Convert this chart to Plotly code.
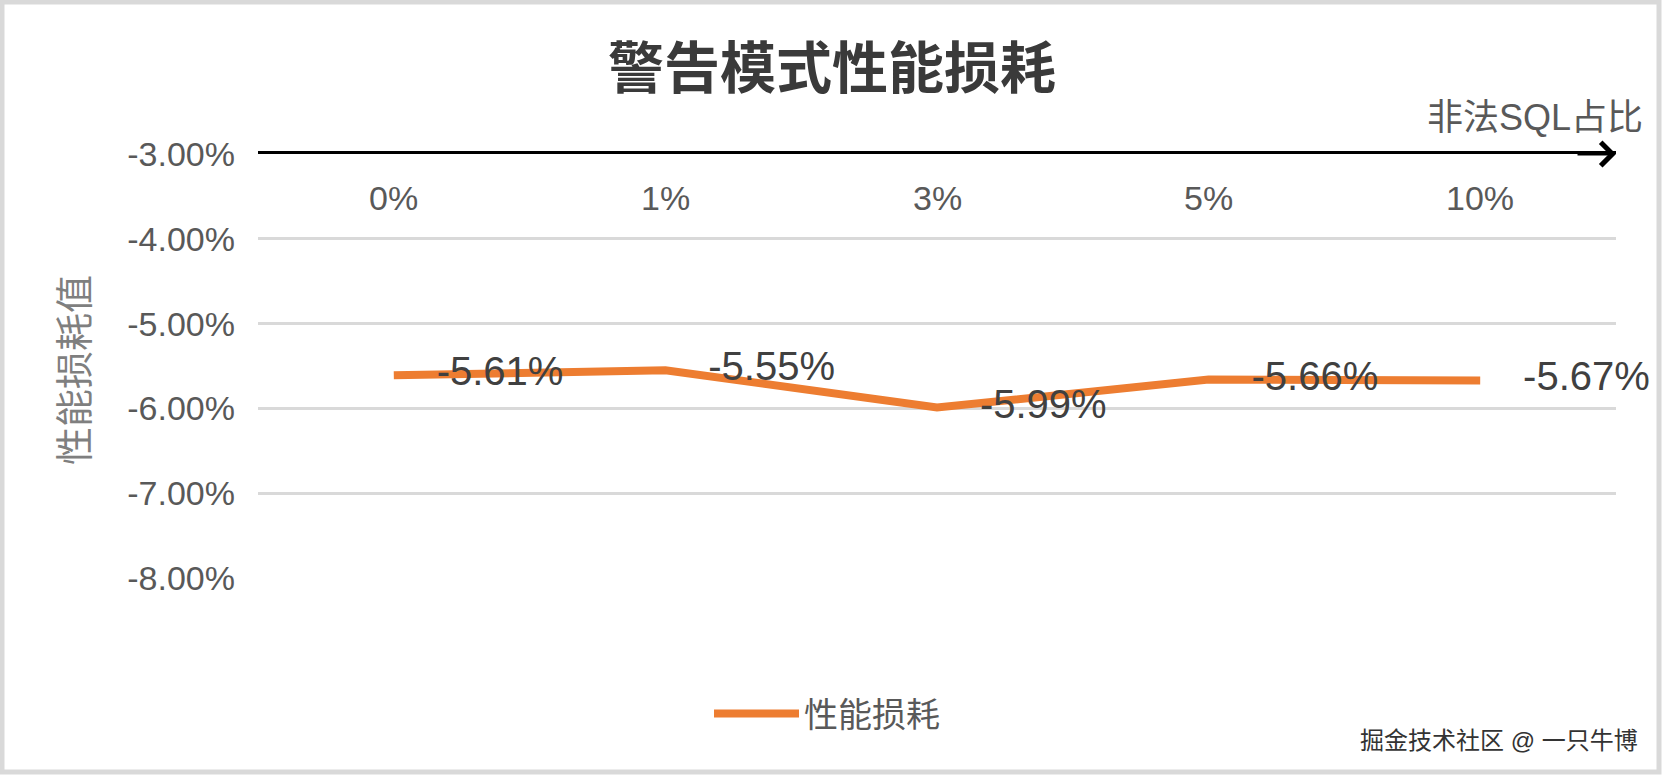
import plotly.graph_objects as go

# data
categories = ["0%", "1%", "3%", "5%", "10%"]
loss = [-0.0561, -0.0555, -0.0599, -0.0566, -0.0567]
y_ticks = [-0.03, -0.04, -0.05, -0.06, -0.07, -0.08]

W, H = 1664, 776
ML, MR, MT, MB = 258, 48, 154, 198
PW, PH = W - ML - MR, H - MT - MB

FONT = "Liberation Sans, Arial, Noto Sans CJK SC, sans-serif"
ORANGE = "#ED7D31"


def px_x(x):
    return (x - ML) / PW


def px_y(y):
    return (H - MB - y) / PH


fig = go.Figure()
fig.add_trace(go.Scatter(
    x=categories, y=loss, name="性能损耗",
    mode="lines",
    line=dict(color=ORANGE, width=8),
    hoverinfo="x+y",
))
# data labels, pushed right of the points by an invisible marker
fig.add_trace(go.Scatter(
    x=categories, y=loss, mode="markers+text", showlegend=False,
    marker=dict(size=67, color="rgba(0,0,0,0)"),
    text=[f"{v:.2%}" for v in loss],
    textposition="middle right",
    textfont=dict(size=40, color="#404040", family=FONT),
    cliponaxis=False, hoverinfo="skip",
))

fig.update_layout(
    width=W, height=H,
    margin=dict(l=ML, r=MR, t=MT, b=MB),
    paper_bgcolor="white", plot_bgcolor="white",
    font=dict(family=FONT, color="#595959"),
    title=dict(text="<b>警告模式性能损耗</b>", x=0.5, xref="container",
               y=1 - 68 / H, yanchor="middle",
               font=dict(size=56, color="#3a3a3a", family=FONT)),
    showlegend=True,
    legend=dict(orientation="h", xref="container", yref="container",
                x=0.497, xanchor="center", y=1 - 714 / H, yanchor="middle",
                itemwidth=85, font=dict(size=34, color="#595959")),
)

fig.update_xaxes(
    type="category", range=[-0.5, len(categories) - 0.5],
    side="top", showline=True, linecolor="black", linewidth=3,
    ticks="", showticklabels=False,
    showgrid=False, zeroline=False, fixedrange=True,
)
fig.update_yaxes(
    range=[min(y_ticks), max(y_ticks)],
    tickvals=y_ticks, ticktext=[f"{v:.2%}" for v in y_ticks],
    tickfont=dict(size=34, color="#595959"),
    showgrid=True, gridcolor="#d9d9d9", gridwidth=3,
    zeroline=False, showline=False, ticks="", ticklabelstandoff=22,
    fixedrange=True,
)

# category labels sit just under the axis line at the top
for c in categories:
    fig.add_annotation(x=c, y=1, xref="x", yref="paper", text=c,
                       showarrow=False, yanchor="middle", yshift=-44,
                       font=dict(size=34, color="#595959"))

# arrow head on the category axis
fig.add_annotation(x=1, y=1, xref="paper", yref="paper", text="",
                   showarrow=True, arrowhead=4, arrowsize=1.5, arrowwidth=3,
                   arrowcolor="black", ax=-40, ay=0, standoff=0)
# axis titles
fig.add_annotation(x=px_x(1645), y=px_y(118), xref="paper", yref="paper",
                   text="非法SQL占比", showarrow=False, xanchor="right",
                   yanchor="middle", font=dict(size=36, color="#595959"))
fig.add_annotation(x=px_x(75), y=px_y(370), xref="paper", yref="paper",
                   text="性能损耗值", showarrow=False, textangle=-90,
                   xanchor="center", yanchor="middle",
                   font=dict(size=38, color="#7f7f7f"))
# watermark
fig.add_annotation(x=px_x(1640), y=px_y(740), xref="paper", yref="paper",
                   text="掘金技术社区 @ 一只牛博", showarrow=False,
                   xanchor="right", yanchor="middle",
                   font=dict(size=24, color="#333333"))
# outer frame
fig.add_shape(type="rect", xref="paper", yref="paper",
              x0=px_x(2), x1=px_x(W - 5), y0=px_y(H - 4), y1=px_y(2),
              line=dict(color="#d9d9d9", width=5), fillcolor="rgba(0,0,0,0)",
              layer="below")

fig.write_html("out.html", config={"displayModeBar": False},
               post_script="document.body.style.margin='0';")
